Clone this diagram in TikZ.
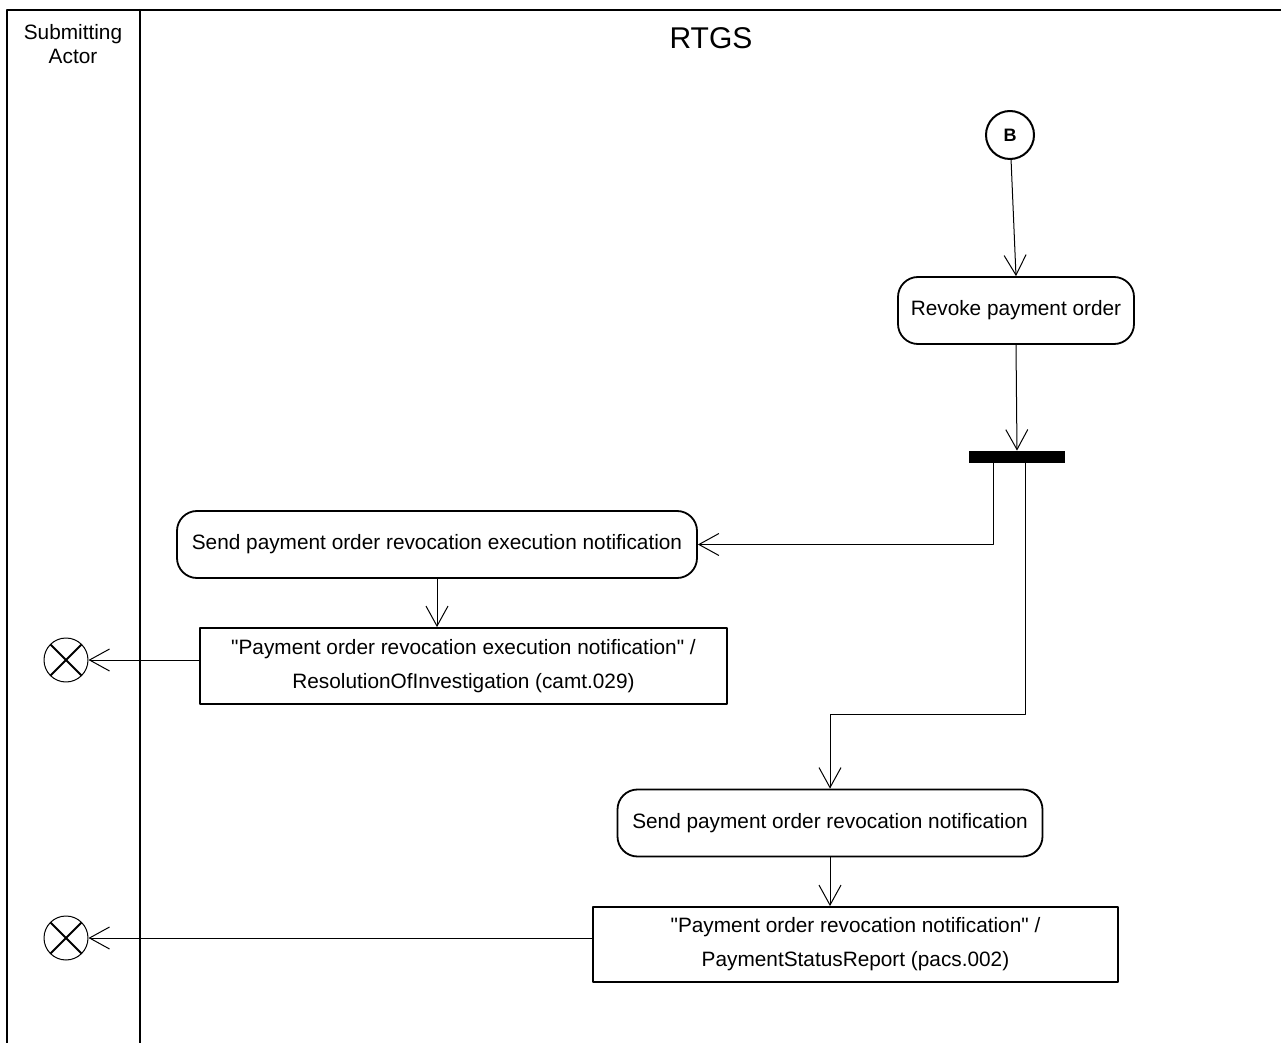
\documentclass[tikz,border=0pt]{standalone}
\usepackage{fontspec}
\setmainfont{Liberation Sans}
\usetikzlibrary{arrows.meta}
\begin{document}
\begin{tikzpicture}[x=0.5pt,y=-0.5pt,line cap=round,line join=round,
    flow/.style={line width=0.5pt,-{Straight Barb[length=10pt,width=11pt,line width=0.5pt]}},
    activity/.style={draw,line width=0.9pt,rounded corners=10pt,inner sep=0pt,minimum height=33.5pt,font=\fontsize{10.4}{12.5}\selectfont},
    message/.style={draw,line width=0.9pt,inner sep=0pt,align=center,font=\fontsize{10.4}{17}\selectfont},
    endflow/.style={draw,circle,line width=0.5pt,minimum size=22pt,inner sep=0pt,path picture={
      \draw[line width=1pt] (path picture bounding box.north west) -- (path picture bounding box.south east)
        (path picture bounding box.north east) -- (path picture bounding box.south west);}}]
  \useasboundingbox (0,0) rectangle (1281,1043);
  % swimlanes
  \draw[line width=1pt] (7,1043) -- (7,10) -- (1281,10);
  \draw[line width=1pt] (140,10) -- (140,1043);
  \node[align=center,font=\fontsize{10.4}{12}\selectfont] (actor) at (73,44) {Submitting\\Actor};
  \node[font=\fontsize{15}{18}\selectfont] (rtgs) at (711,38) {RTGS};
  % activities
  \node[draw,circle,line width=1pt,minimum size=24pt,inner sep=0pt,font=\fontsize{9}{10}\bfseries] (B) at (1010,135) {B};
  \node[activity,minimum width=118pt] (revoke) at (1016,310.5) {Revoke payment order};
  \node[fill=black,inner sep=0pt,minimum width=48pt,minimum height=6pt] (fork) at (1017,457) {};
  \coordinate (forkL) at (993,463);
  \coordinate (forkR) at (1025,463);
  \node[activity,minimum width=260pt] (sendexec) at (437,544.5) {Send payment order revocation execution notification};
  \node[message,minimum width=263.5pt,minimum height=38pt] (msg1) at (463.5,666) {\textquotedbl Payment order revocation execution notification\textquotedbl{} /\\ResolutionOfInvestigation (camt.029)};
  \node[activity,minimum width=212.5pt] (sendnot) at (830,823) {Send payment order revocation notification};
  \node[message,minimum width=262.5pt,minimum height=37.5pt] (msg2) at (855.5,944.5) {\textquotedbl Payment order revocation notification\textquotedbl{} /\\PaymentStatusReport (pacs.002)};
  \node[endflow] (end1) at (66,660) {};
  \node[endflow] (end2) at (66,938) {};
  % flows
  \draw[flow] (B) -- (revoke.north);
  \draw[flow] (revoke.south) -- (fork.north);
  \draw[flow] (forkL) |- (sendexec.east);
  \draw[flow] (forkR) -- ++(0,251) -| (sendnot.north);
  \draw[flow] (sendexec.south) -- (sendexec.south |- msg1.north);
  \draw[flow] (msg1.west |- end1) -- (end1);
  \draw[flow] (sendnot.south) -- (sendnot.south |- msg2.north);
  \draw[flow] (msg2.west |- end2) -- (end2);
\end{tikzpicture}
\end{document}
